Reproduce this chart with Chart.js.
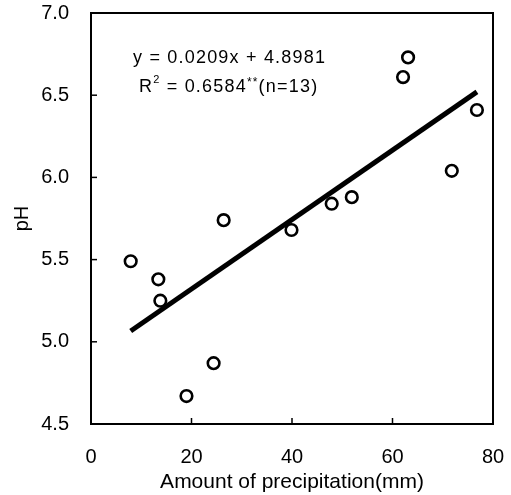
<!DOCTYPE html>
<html>
<head>
<meta charset="utf-8">
<script src="https://cdn.jsdelivr.net/npm/chart.js@4.4.0/dist/chart.umd.min.js"></script>
<style>
  html, body { margin: 0; padding: 0; background: #fff; }
  #wrap { width: 511px; height: 495px; }
</style>
</head>
<body>
<div id="wrap"><canvas id="ph-chart" width="511" height="495"></canvas></div>
<script>
// precipitation (mm) vs pH
var precip = [7.9, 13.4, 13.8, 19.0, 24.4, 26.4, 39.9, 47.9, 51.9, 62.1, 63.1, 71.8, 76.8];
var phVals = [5.49, 5.38, 5.25, 4.67, 4.87, 5.74, 5.68, 5.84, 5.88, 6.61, 6.73, 6.04, 6.41];
// fitted line end points
var fitX = [7.9, 76.8];
var fitY = [5.066, 6.52];
var xTicks = [0, 20, 40, 60, 80];
var yTicks = [4.5, 5.0, 5.5, 6.0, 6.5, 7.0];

var FONT = "'Liberation Sans', Arial, sans-serif";

// frame + inward tick marks + equation text
var decor = {
  id: 'decor',
  afterDraw: function(chart) {
    var c = chart.ctx, a = chart.chartArea;
    var xs = chart.scales.x, ys = chart.scales.y;
    c.save();
    c.strokeStyle = '#000';
    c.lineWidth = 2;
    c.strokeRect(a.left, a.top, a.right - a.left, a.bottom - a.top);
    c.lineWidth = 1.5;
    xTicks.forEach(function(v) {
      var px = xs.getPixelForValue(v);
      c.beginPath(); c.moveTo(px, a.bottom); c.lineTo(px, a.bottom - 6); c.stroke();
    });
    yTicks.forEach(function(v) {
      var py = ys.getPixelForValue(v);
      c.beginPath(); c.moveTo(a.left, py); c.lineTo(a.left + 6, py); c.stroke();
    });

    c.fillStyle = '#000';
    c.textBaseline = 'alphabetic';
    c.textAlign = 'left';
    c.letterSpacing = '1.2px';
    c.font = '18px ' + FONT;
    c.fillText('y = 0.0209x + 4.8981', 133, 63);
    var x = 139;
    c.fillText('R', x, 92); x += c.measureText('R').width;
    c.font = '11px ' + FONT;
    c.fillText('2', x, 83); x += c.measureText('2').width;
    c.font = '18px ' + FONT;
    c.fillText(' = 0.6584', x, 92); x += c.measureText(' = 0.6584').width;
    c.font = '12px ' + FONT;
    c.fillText('**', x, 86); x += c.measureText('**').width;
    c.font = '18px ' + FONT;
    c.fillText('(n=13)', x, 92);
    c.restore();
  }
};

var pts = precip.map(function(v, i) { return { x: v, y: phVals[i] }; });
var fitPts = fitX.map(function(v, i) { return { x: v, y: fitY[i] }; });

var ctx = document.getElementById('ph-chart').getContext('2d');
var myChart = new Chart(ctx, {
  type: 'scatter',
  data: {
    datasets: [
      {
        type: 'line',
        data: fitPts,
        borderColor: '#000',
        borderWidth: 5,
        pointRadius: 0,
        fill: false
      },
      {
        data: pts,
        pointStyle: 'circle',
        pointRadius: 5.8,
        pointBorderWidth: 2.6,
        pointBackgroundColor: '#fff',
        pointBorderColor: '#000'
      }
    ]
  },
  options: {
    responsive: false,
    animation: false,
    layout: { padding: { top: 13, right: 18, left: 0, bottom: 0 } },
    plugins: { legend: { display: false }, tooltip: { enabled: false } },
    scales: {
      x: {
        type: 'linear',
        min: 0, max: 80,
        afterBuildTicks: function(s) { s.ticks = xTicks.map(function(v) { return { value: v }; }); },
        afterFit: function(s) { s.height = 71; s.paddingLeft = 0; s.paddingRight = 0; },
        grid: { display: false, drawTicks: false },
        border: { display: false },
        ticks: { color: '#000', padding: 21, font: { family: FONT, size: 20 } },
        title: {
          display: true, text: 'Amount of precipitation(mm)', color: '#000',
          font: { family: FONT, size: 21 }, padding: { top: 0, bottom: 0 }
        }
      },
      y: {
        type: 'linear',
        min: 4.5, max: 7.0,
        afterBuildTicks: function(s) { s.ticks = yTicks.map(function(v) { return { value: v }; }); },
        afterFit: function(s) { s.width = 91; s.paddingTop = 0; s.paddingBottom = 0; },
        grid: { display: false, drawTicks: false },
        border: { display: false },
        ticks: {
          color: '#000', padding: 22, font: { family: FONT, size: 20 },
          callback: function(v) { return v.toFixed(1); }
        },
        title: {
          display: true, text: 'pH', color: '#000',
          font: { family: FONT, size: 20 }, padding: { top: 10, bottom: 0 }
        }
      }
    }
  },
  plugins: [decor]
});
</script>
</body>
</html>
